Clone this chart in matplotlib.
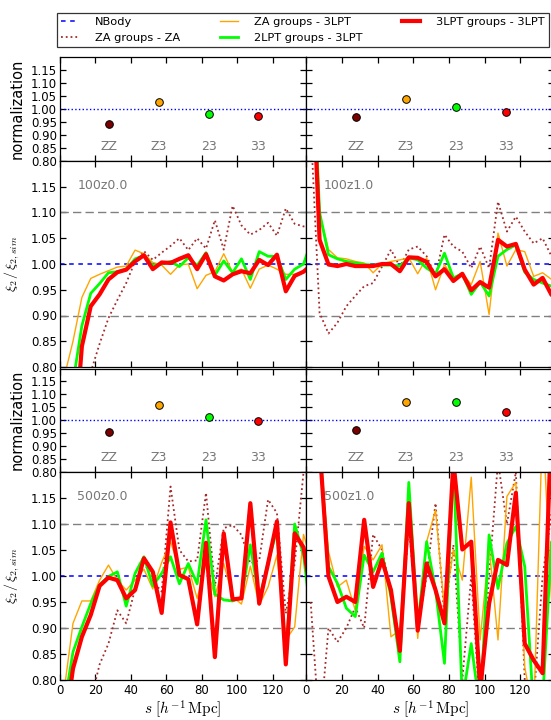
import matplotlib
matplotlib.use("Agg")
import matplotlib.pyplot as plt
from matplotlib.lines import Line2D

plt.rcParams["mathtext.fontset"] = "cm"

# ---------------- data ----------------
s = [2.5, 7.5, 12.5, 17.5, 22.5, 27.5, 32.5, 37.5, 42.5, 47.5,
     52.5, 57.5, 62.5, 67.5, 72.5, 77.5, 82.5, 87.5, 92.5, 97.5,
     102.5, 107.5, 112.5, 117.5, 122.5, 127.5, 132.5, 137.5, 142.5]

norm_labels = ["ZZ", "Z3", "23", "33"]
norm_x = [28, 56, 84, 112]

# 100z0.0
za_za_100z0 = [0.30, 0.50, 0.68, 0.79, 0.845, 0.895, 0.93, 0.963, 1.005, 1.025,
               1.008, 1.022, 1.035, 1.05, 1.027, 1.05, 1.03, 1.085, 1.028, 1.113,
               1.075, 1.057, 1.066, 1.08, 1.055, 1.108, 1.078, 1.073, 1.07]
za_3lpt_100z0 = [0.78, 0.85, 0.935, 0.972, 0.98, 0.987, 0.994, 0.996, 1.027, 1.02,
                 1.003, 0.998, 0.98, 0.998, 1.0, 0.952, 0.978, 0.985, 1.02, 0.984,
                 0.99, 0.953, 0.99, 0.998, 0.99, 0.98, 0.98, 0.985, 0.99]
lpt2_3lpt_100z0 = [0.70, 0.77, 0.88, 0.943, 0.962, 0.983, 0.985, 0.99, 1.01, 1.016,
                   0.997, 1.0, 1.005, 0.995, 1.012, 0.997, 1.022, 0.978, 1.006, 0.983,
                   1.01, 0.97, 1.024, 1.015, 1.015, 0.97, 0.99, 1.0, 1.05]
lpt3_3lpt_100z0 = [0.40, 0.62, 0.84, 0.918, 0.941, 0.970, 0.984, 0.989, 1.005, 1.017,
                   0.990, 1.003, 1.002, 1.010, 1.017, 0.990, 1.019, 0.976, 0.968, 0.98,
                   0.986, 0.982, 1.008, 0.998, 1.018, 0.947, 0.977, 0.985, 1.0]
norm_100z0 = [0.942, 1.027, 0.978, 0.973]

# 100z1.0
za_za_100z1 = [1.27, 0.905, 0.865, 0.886, 0.918, 0.938, 0.957, 0.963, 0.995, 1.028,
               0.995, 1.028, 1.034, 1.015, 0.976, 1.057, 1.034, 1.024, 0.992, 1.034,
               0.992, 1.121, 1.063, 1.092, 1.063, 1.04, 1.05, 1.015, 1.0]
za_3lpt_100z1 = [1.5, 1.10, 1.028, 1.012, 1.01, 1.005, 1.002, 0.983, 1.0, 1.005,
                 1.008, 1.012, 0.981, 1.012, 0.95, 0.999, 0.973, 0.982, 0.96, 1.005,
                 0.902, 1.06, 0.996, 1.028, 1.024, 0.976, 0.983, 0.97, 0.96]
lpt2_3lpt_100z1 = [1.5, 1.10, 1.018, 1.01, 1.005, 1.002, 0.999, 0.998, 0.998, 0.998,
                   0.996, 1.012, 1.008, 0.992, 0.981, 1.021, 0.973, 0.981, 0.941, 0.965,
                   0.938, 1.015, 1.028, 1.037, 0.984, 0.97, 0.963, 0.957, 0.955]
lpt3_3lpt_100z1 = [1.47, 1.047, 0.999, 0.996, 1.0, 0.996, 0.996, 0.996, 1.0, 1.0,
                   0.986, 1.013, 1.012, 1.004, 0.976, 0.99, 0.967, 0.981, 0.949, 0.965,
                   0.954, 1.047, 1.034, 1.039, 0.989, 0.96, 0.973, 0.94, 0.95]
norm_100z1 = [0.969, 1.037, 1.008, 0.988]

# 500z0.0
za_za_500z0 = [0.50, 0.60, 0.68, 0.76, 0.83, 0.87, 0.934, 0.909, 0.975, 1.028,
               0.99, 0.97, 1.172, 1.05, 1.028, 1.03, 1.16, 0.98, 1.092, 1.098,
               1.079, 1.024, 1.03, 1.147, 1.121, 0.928, 1.024, 1.2, 1.25]
za_3lpt_500z0 = [0.78, 0.909, 0.952, 0.952, 0.992, 1.021, 0.992, 0.973, 0.992, 1.013,
                 0.975, 1.026, 1.066, 1.013, 1.017, 0.957, 1.024, 0.96, 1.024, 0.96,
                 0.946, 1.019, 0.944, 0.979, 1.04, 0.877, 0.902, 1.08, 1.02]
lpt2_3lpt_500z0 = [0.75, 0.854, 0.902, 0.947, 0.983, 0.999, 1.008, 0.942, 1.005, 1.037,
                   0.981, 1.005, 1.037, 0.985, 1.024, 0.985, 1.108, 0.965, 0.954, 0.952,
                   0.959, 1.06, 0.954, 1.026, 1.089, 0.844, 1.10, 1.04, 0.9]
lpt3_3lpt_500z0 = [0.70, 0.822, 0.883, 0.925, 0.981, 0.997, 0.992, 0.957, 0.973, 1.034,
                   1.008, 0.929, 1.103, 1.002, 0.994, 0.907, 1.064, 0.844, 1.082, 0.955,
                   0.957, 1.14, 0.947, 1.024, 1.105, 0.83, 1.082, 1.055, 0.95]
norm_500z0 = [0.954, 1.058, 1.014, 0.996]

# 500z1.0
za_za_500z1 = [0.95, 0.70, 0.90, 0.873, 0.90, 0.94, 0.90, 1.08, 1.05, 0.97,
               0.86, 1.10, 0.90, 1.00, 1.14, 0.92, 1.06, 0.80, 1.00, 0.74,
               1.00, 1.22, 1.10, 1.20, 0.80, 0.76, 1.00, 1.12, 1.10]
za_3lpt_500z1 = [1.5, 1.25, 1.047, 0.979, 0.992, 0.934, 1.057, 1.031, 1.06, 0.883,
                 0.896, 1.16, 0.88, 1.066, 1.127, 0.934, 1.05, 0.992, 1.19, 0.877,
                 1.057, 0.877, 1.153, 1.18, 0.825, 0.73, 1.3, 0.954, 0.93]
lpt2_3lpt_500z1 = [1.5, 1.25, 1.018, 0.986, 0.938, 0.922, 1.04, 1.008, 1.044, 0.96,
                   0.835, 1.18, 0.902, 1.066, 0.973, 0.832, 1.22, 0.76, 0.87, 0.74,
                   1.079, 0.976, 1.063, 1.095, 1.018, 0.74, 0.76, 1.066, 1.0]
lpt3_3lpt_500z1 = [1.5, 1.25, 0.999, 0.95, 0.96, 0.95, 1.108, 0.979, 1.031, 0.973,
                   0.856, 1.14, 0.895, 1.024, 0.973, 0.909, 1.22, 1.051, 1.066, 0.78,
                   0.947, 1.031, 1.021, 1.16, 0.87, 0.838, 0.813, 1.3, 1.3]
norm_500z1 = [0.961, 1.070, 1.070, 1.031]

panel_names = ["100z0.0", "100z1.0", "500z0.0", "500z1.0"]
series_labels = ["NBody", "ZA groups - ZA", "ZA groups - 3LPT",
                 "2LPT groups - 3LPT", "3LPT groups - 3LPT"]

# ---------------- styles ----------------
C_NB = "blue"
C_ZA = "#A52A2A"
C_Z3 = "orange"
C_23 = "#00FF00"
C_33 = "red"
norm_colors = ["#7B0000", C_Z3, C_23, C_33]
TEXT_GRAY = "#777777"
FS = 8.5

W, H = 551, 720
fig = plt.figure(figsize=(W / 100, H / 100), dpi=100)

xl, wl = 59.7, 246.5
xr, wr = 306.2, 248.0
rows = {  # top, bottom in px
    "n1": (57.0, 160.5),
    "x1": (161.0, 367.0),
    "n2": (368.5, 472.0),
    "x2": (472.0, 680.0),
}


def make_ax(x0, w, key):
    t, b = rows[key]
    return fig.add_axes([x0 / W, 1 - b / H, w / W, (b - t) / H])


def style(ax, left, bottom):
    ax.set_xlim(0, 139)
    ax.set_ylim(0.80, 1.20)
    ax.set_xticks([0, 20, 40, 60, 80, 100, 120])
    ax.set_yticks([0.80, 0.85, 0.90, 0.95, 1.00, 1.05, 1.10, 1.15])
    ax.tick_params(direction="in", top=True, right=True, length=4.5,
                   width=0.9, labelsize=FS, pad=2)
    ax.tick_params(axis="x", pad=3)
    if not left:
        ax.set_yticklabels([])
    else:
        ax.set_yticklabels(["%.2f" % v for v in ax.get_yticks()])
    if not bottom:
        ax.set_xticklabels([])
    else:
        ax.set_xlabel(r"$s\ [h^{-1}\,\mathrm{Mpc}]$", fontsize=11, labelpad=1)
    for sp in ax.spines.values():
        sp.set_linewidth(0.9)


norm_sets = [norm_100z0, norm_100z1, norm_500z0, norm_500z1]
xi_sets = [
    (za_za_100z0, za_3lpt_100z0, lpt2_3lpt_100z0, lpt3_3lpt_100z0),
    (za_za_100z1, za_3lpt_100z1, lpt2_3lpt_100z1, lpt3_3lpt_100z1),
    (za_za_500z0, za_3lpt_500z0, lpt2_3lpt_500z0, lpt3_3lpt_500z0),
    (za_za_500z1, za_3lpt_500z1, lpt2_3lpt_500z1, lpt3_3lpt_500z1),
]

layout = [("n1", "x1", 0, xl, wl, True), ("n1", "x1", 1, xr, wr, False),
          ("n2", "x2", 2, xl, wl, True), ("n2", "x2", 3, xr, wr, False)]

for nkey, xkey, idx, x0, w, left in layout:
    # normalization panel
    axn = make_ax(x0, w, nkey)
    axn.axhline(1.0, color=C_NB, ls=":", lw=1.0)
    for xv, yv, c, lab in zip(norm_x, norm_sets[idx], norm_colors, norm_labels):
        axn.plot([xv], [yv], "o", color=c, mec="black", mew=0.7, ms=5.5)
        axn.text(xv, 0.855, lab, color=TEXT_GRAY, fontsize=9,
                 ha="center", va="center")
    style(axn, left, False)
    if left:
        axn.set_ylabel("normalization", fontsize=10.5)
        axn.yaxis.set_label_coords(-0.143, 0.5)

    # ratio panel
    axx = make_ax(x0, w, xkey)
    za_za, za3, l2, l3 = xi_sets[idx]
    axx.axhline(0.9, color="gray", ls=(0, (6, 3)), lw=1.0)
    axx.axhline(1.1, color="gray", ls=(0, (6, 3)), lw=1.0)
    axx.axhline(1.0, color=C_NB, ls=(0, (3, 3)), lw=1.1)
    axx.plot(s, za_za, color=C_ZA, ls=":", lw=1.3)
    axx.plot(s, za3, color=C_Z3, lw=1.0)
    axx.plot(s, l2, color=C_23, lw=2.0)
    axx.plot(s, l3, color=C_33, lw=3.0)
    axx.text(10, 1.152, panel_names[idx], color=TEXT_GRAY, fontsize=9,
             ha="left", va="center")
    style(axx, left, xkey == "x2")
    if left:
        axx.set_ylabel(r"$\xi_2\,/\,\xi_{2,sim}$", fontsize=10)
        axx.yaxis.set_label_coords(-0.158, 0.5)

handles = [
    Line2D([], [], color=C_NB, ls=(0, (3, 3)), lw=1.1),
    Line2D([], [], color=C_ZA, ls=":", lw=1.3),
    Line2D([], [], color=C_Z3, lw=1.0),
    Line2D([], [], color=C_23, lw=2.0),
    Line2D([], [], color=C_33, lw=3.0),
]
leg = fig.legend(handles, series_labels, ncol=3, fontsize=8.2,
                 loc="lower left", mode="expand",
                 bbox_to_anchor=(57 / W, 1 - 47 / H, (549 - 57) / W, 42 / H),
                 frameon=True, fancybox=False, handlelength=1.6,
                 borderaxespad=0.0, labelspacing=0.55, handletextpad=1.4,
                 borderpad=0.35)
leg.get_frame().set_edgecolor("black")
leg.get_frame().set_linewidth(0.9)

fig.savefig("out.png", dpi=100)
